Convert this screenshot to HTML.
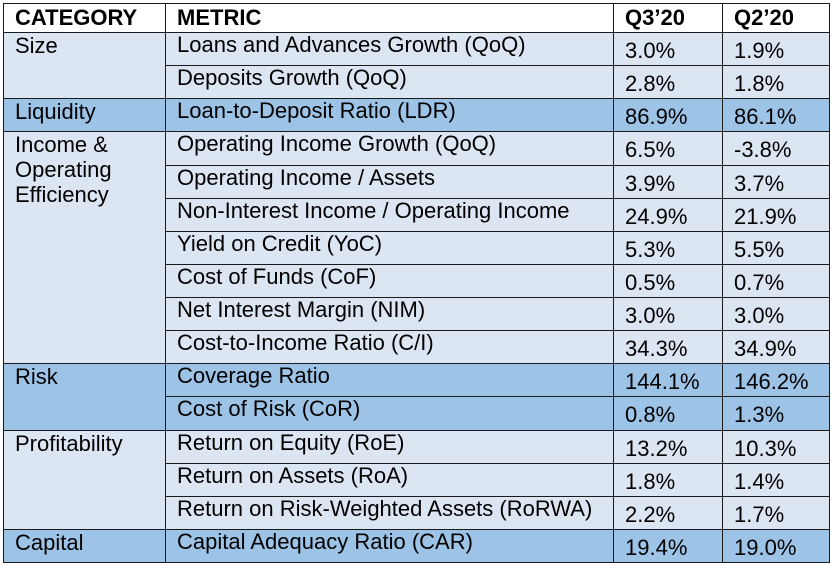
<!DOCTYPE html>
<html><head><meta charset="utf-8"><style>
html,body{margin:0;padding:0;background:#fff;width:832px;height:566px;overflow:hidden}
table{position:absolute;left:3px;top:3px;border-collapse:collapse;table-layout:fixed;font-family:"Liberation Sans",Arial,sans-serif;font-size:22px;color:#000}
td{border:1px solid #1a1a1a;padding:0 0 0 11px;vertical-align:top;line-height:24px;white-space:nowrap;overflow:hidden}
tr.h td{background:#fff;font-weight:bold;font-size:22px;height:28px;vertical-align:middle;padding-top:0;line-height:22px}
tr.r td{height:33.125px;box-sizing:border-box}
td.v{padding-top:6px}
.l{background:#dce6f2}
.d{background:#9dc3e6}
td.c{line-height:25px}
</style></head><body>
<table>
<colgroup><col style="width:162px"><col style="width:448px"><col style="width:109px"><col style="width:107px"></colgroup>
<tr class="h"><td>CATEGORY</td><td>METRIC</td><td>Q3’20</td><td>Q2’20</td></tr>
<tr class="r l"><td class="c" rowspan="2">Size</td><td>Loans and Advances Growth (QoQ)</td><td class="v">3.0%</td><td class="v">1.9%</td></tr>
<tr class="r l"><td>Deposits Growth (QoQ)</td><td class="v">2.8%</td><td class="v">1.8%</td></tr>
<tr class="r d"><td class="c">Liquidity</td><td>Loan-to-Deposit Ratio (LDR)</td><td class="v">86.9%</td><td class="v">86.1%</td></tr>
<tr class="r l"><td class="c" rowspan="7">Income &amp;<br>Operating<br>Efficiency</td><td>Operating Income Growth (QoQ)</td><td class="v">6.5%</td><td class="v">-3.8%</td></tr>
<tr class="r l"><td>Operating Income / Assets</td><td class="v">3.9%</td><td class="v">3.7%</td></tr>
<tr class="r l"><td>Non-Interest Income / Operating Income</td><td class="v">24.9%</td><td class="v">21.9%</td></tr>
<tr class="r l"><td>Yield on Credit (YoC)</td><td class="v">5.3%</td><td class="v">5.5%</td></tr>
<tr class="r l"><td>Cost of Funds (CoF)</td><td class="v">0.5%</td><td class="v">0.7%</td></tr>
<tr class="r l"><td>Net Interest Margin (NIM)</td><td class="v">3.0%</td><td class="v">3.0%</td></tr>
<tr class="r l"><td>Cost-to-Income Ratio (C/I)</td><td class="v">34.3%</td><td class="v">34.9%</td></tr>
<tr class="r d"><td class="c" rowspan="2">Risk</td><td>Coverage Ratio</td><td class="v">144.1%</td><td class="v">146.2%</td></tr>
<tr class="r d"><td>Cost of Risk (CoR)</td><td class="v">0.8%</td><td class="v">1.3%</td></tr>
<tr class="r l"><td class="c" rowspan="3">Profitability</td><td>Return on Equity (RoE)</td><td class="v">13.2%</td><td class="v">10.3%</td></tr>
<tr class="r l"><td>Return on Assets (RoA)</td><td class="v">1.8%</td><td class="v">1.4%</td></tr>
<tr class="r l"><td>Return on Risk-Weighted Assets (RoRWA)</td><td class="v">2.2%</td><td class="v">1.7%</td></tr>
<tr class="r d"><td class="c">Capital</td><td>Capital Adequacy Ratio (CAR)</td><td class="v">19.4%</td><td class="v">19.0%</td></tr>
</table>
</body></html>
